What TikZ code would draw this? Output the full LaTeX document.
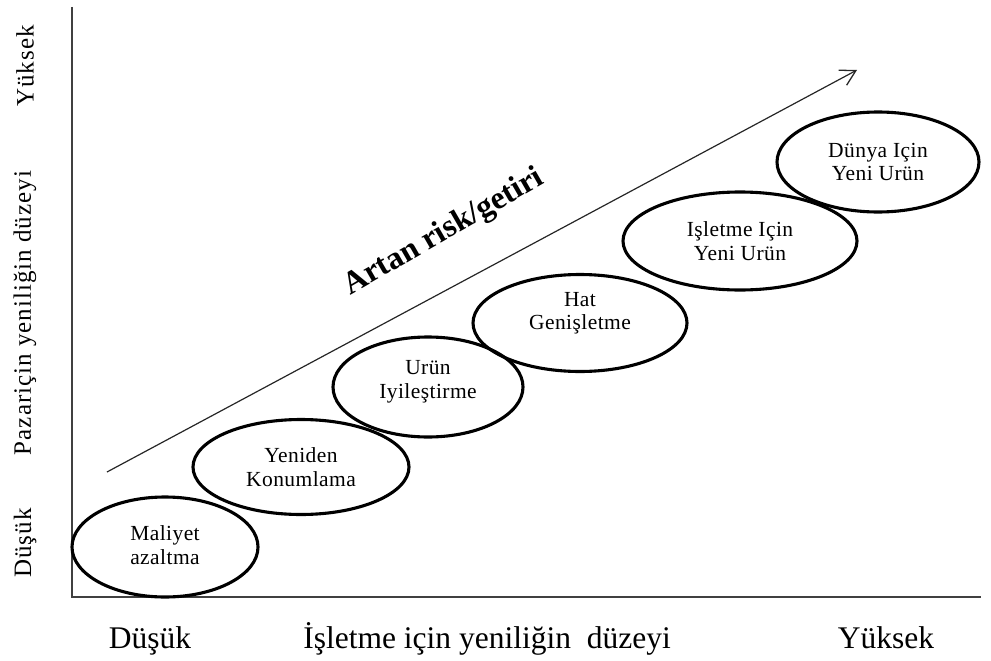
\documentclass[tikz,border=0pt]{standalone}
\usepackage{fontspec}
\setmainfont{Liberation Serif}
\usetikzlibrary{shapes.geometric,arrows.meta}
\begin{document}
\begin{tikzpicture}[x=1pt,y=-1pt,
  stage/.style={ellipse, draw=black, line width=3.1pt, inner sep=0pt},
  stagetext/.style={align=center, inner sep=0pt,
    font=\fontsize{21.5}{23.5}\selectfont\addfontfeature{LetterSpace=2}},
  axisline/.style={draw=black!75, line width=2pt},
  trend/.style={draw=black!85, line width=1.2pt,
    -{Straight Barb[length=15pt,width=17pt,line width=1.3pt]}},
  ylabel/.style={rotate=90, font=\fontsize{25}{28}\selectfont\addfontfeature{LetterSpace=4}},
  xlabel/.style={anchor=base, font=\fontsize{31.5}{34}\selectfont}]
\useasboundingbox (0,0) rectangle (991,661);

% axes
\coordinate (top) at (72,7);
\coordinate (origin) at (72,597);
\coordinate (right) at (981,597);
\draw[axisline] (top) -- (origin) -- (right);

% innovation stages
\node[stage, minimum width=186pt, minimum height=100pt] (e1) at (165,547) {};
\node[stage, minimum width=216pt, minimum height=95pt] (e2) at (301,467) {};
\node[stage, minimum width=190pt, minimum height=100pt] (e3) at (428,387) {};
\node[stage, minimum width=214pt, minimum height=97pt] (e4) at (580,323) {};
\node[stage, minimum width=234pt, minimum height=98pt] (e5) at (740,241) {};
\node[stage, minimum width=202pt, minimum height=100pt] (e6) at (878,162) {};

\node[stagetext, yshift=2pt] (t1) at (e1) {Maliyet\\azaltma};
\node[stagetext] (t2) at (e2) {Yeniden\\Konumlama};
\node[stagetext, yshift=5pt] (t3) at (e3) {Urün\\Iyileştirme};
\node[stagetext, yshift=10pt] (t4) at (e4) {Hat\\Genişletme};
\node[stagetext] (t5) at (e5) {Işletme Için\\Yeni Urün};
\node[stagetext] (t6) at (e6) {Dünya Için\\Yeni Urün};

% rising risk arrow
\coordinate (as) at (107,472);
\coordinate (ae) at (857,70);
\draw[trend] (as) -- (ae);
\node[anchor=base, rotate=30, font=\bfseries\fontsize{32}{35}\selectfont] (risk) at (448,239) {Artan risk/getiri};

% vertical axis labels
\node[ylabel] (ylow) at (25,543) {Düşük};
\node[ylabel] (ymid) at (25,313) {Pazariçin yeniliğin düzeyi};
\node[ylabel] (yhigh) at (25,66) {Yüksek};

% horizontal axis labels
\node[xlabel] (xlow) at (150,648) {Düşük};
\node[xlabel] (xmid) at (487,648) {İşletme için yeniliğin~~düzeyi};
\node[xlabel] (xhigh) at (886,648) {Yüksek};
\end{tikzpicture}
\end{document}
